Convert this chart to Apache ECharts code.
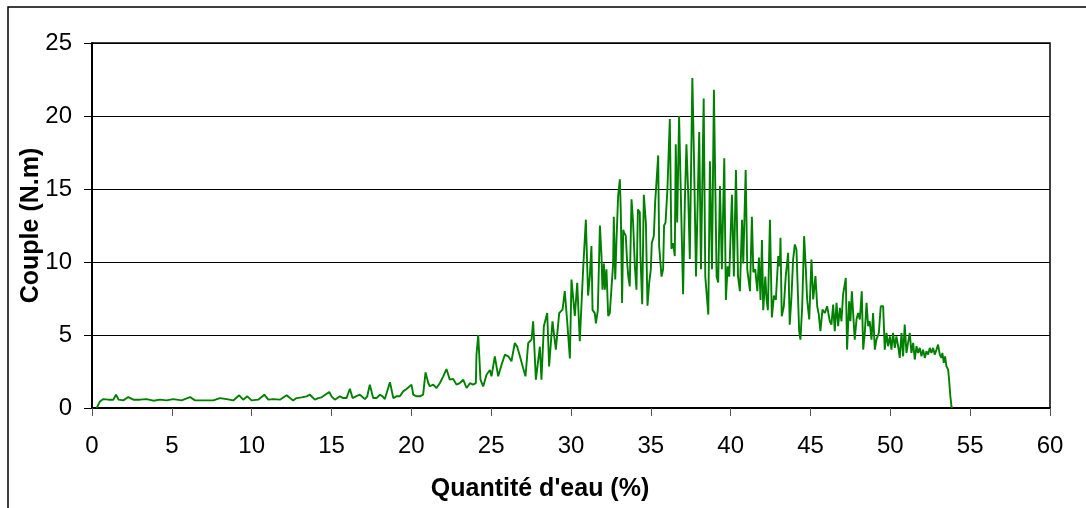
<!DOCTYPE html>
<html>
<head>
<meta charset="utf-8">
<script src="https://cdn.jsdelivr.net/npm/echarts@6/dist/echarts.min.js"></script>
<style>
  html, body { margin: 0; padding: 0; background: #fff; }
  #chart { width: 1086px; height: 508px; }
</style>
</head>
<body>
<div id="chart"></div>
<script>
// water content (%) / torque (N.m) in segments
const lowX = [0.29, 0.5, 0.71, 1.02, 1.34, 1.5, 1.67, 1.96, 2.27, 2.59, 3.0, 3.42, 3.84, 4.26, 4.67, 5.09, 5.61, 6.14, 6.45, 6.97, 7.6, 8.01, 8.43, 8.85, 9.22, 9.47, 9.73, 9.99, 10.41, 10.79, 11.04, 11.35, 11.77, 12.19, 12.4, 12.6, 12.81, 13.13, 13.44, 13.65, 13.96, 14.17, 14.38, 14.86, 15.0, 15.21, 15.53, 15.74, 15.94, 16.15, 16.32, 16.53, 16.78, 17.09, 17.24, 17.4, 17.61, 17.82, 18.03, 18.2, 18.34, 18.66, 18.87, 19.07, 19.28, 19.49, 19.7, 20.01, 20.12, 20.33, 20.54, 20.74, 20.89, 21.06, 21.16, 21.37, 21.58, 21.79, 22.0, 22.2, 22.41, 22.62, 22.83, 23.04, 23.25, 23.46, 23.67, 23.87, 24.04];
const lowY = [0, 0.45, 0.61, 0.57, 0.57, 0.91, 0.57, 0.52, 0.75, 0.57, 0.57, 0.61, 0.5, 0.57, 0.52, 0.61, 0.52, 0.75, 0.52, 0.52, 0.52, 0.68, 0.61, 0.52, 0.87, 0.57, 0.8, 0.52, 0.57, 0.91, 0.57, 0.61, 0.57, 0.87, 0.68, 0.52, 0.68, 0.73, 0.8, 0.91, 0.57, 0.68, 0.73, 1.1, 0.8, 0.57, 0.8, 0.68, 0.68, 1.32, 0.68, 0.8, 0.91, 0.61, 0.8, 1.6, 0.68, 0.68, 0.91, 0.8, 0.61, 1.76, 0.68, 0.8, 0.8, 1.14, 1.3, 1.6, 0.91, 0.8, 0.8, 0.91, 2.44, 1.71, 1.49, 1.6, 1.37, 1.71, 2.17, 2.67, 1.94, 1.99, 1.6, 1.71, 1.94, 1.37, 1.7, 1.6, 1.7];

const riseX = [24.08, 24.19, 24.33, 24.5, 24.71, 24.92, 25.02, 25.23, 25.44, 25.65, 25.86, 26.07, 26.27, 26.48, 26.63, 26.8, 27.0, 27.15, 27.32, 27.53, 27.63, 27.8, 28.05, 28.15, 28.3, 28.51, 28.63, 28.84, 29.05, 29.26, 29.47, 29.61, 29.76, 29.93, 30.03, 30.24, 30.39, 30.55, 30.76, 30.93, 31.07];
const riseY = [3.65, 5.0, 1.94, 1.48, 2.28, 2.6, 2.17, 3.54, 2.17, 2.97, 3.65, 3.54, 3.2, 4.45, 4.2, 3.54, 2.74, 2.17, 4.45, 4.68, 5.94, 1.94, 4.2, 1.94, 5.6, 6.5, 2.85, 5.94, 4.0, 6.5, 6.74, 8.0, 5.94, 3.4, 8.8, 6.3, 8.57, 4.57, 9.5, 12.9, 7.7];

const peakX = [31.18, 31.28, 31.35, 31.49, 31.56, 31.68, 31.81, 31.91, 31.97, 32.06, 32.12, 32.22, 32.33, 32.43, 32.54, 32.64, 32.68, 32.77, 32.85, 32.95, 33.06, 33.12, 33.2, 33.27, 33.33, 33.43, 33.52, 33.6, 33.68, 33.79, 33.89, 34.0, 34.1, 34.19, 34.31, 34.35, 34.46, 34.56, 34.69, 34.79, 34.9, 35.0, 35.06, 35.19, 35.27, 35.35, 35.46, 35.52, 35.67, 35.77, 35.83, 35.92, 36.04, 36.19, 36.29, 36.4, 36.5, 36.56, 36.65, 36.77, 36.9, 37.02, 37.13, 37.23, 37.34, 37.44, 37.6, 37.7, 37.83, 38.03, 38.14, 38.31, 38.41, 38.6, 38.7, 38.83, 38.95, 39.12, 39.22, 39.33, 39.45, 39.6, 39.7, 39.81, 39.91, 40.08, 40.2, 40.33, 40.46, 40.58, 40.71, 40.79, 40.94, 41.04, 41.21, 41.33, 41.42, 41.54, 41.67, 41.77, 41.87, 41.96, 42.04, 42.17, 42.25, 42.33, 42.46, 42.58, 42.71, 42.83, 42.98, 43.08];
const peakY = [9.03, 11.1, 6.7, 6.5, 5.8, 6.7, 12.5, 10.4, 8.1, 9.9, 8.1, 9.5, 6.3, 6.5, 8.3, 9.9, 13.1, 8.8, 11.5, 14.5, 15.66, 13.4, 7.2, 12.2, 12.0, 11.8, 9.9, 8.9, 8.34, 14.3, 12.7, 9.7, 8.1, 13.6, 13.4, 10.4, 7.1, 14.6, 12.7, 7.0, 8.6, 9.5, 11.3, 11.8, 14.1, 15.4, 17.3, 11.1, 9.0, 9.5, 12.5, 12.7, 15.0, 19.8, 10.9, 11.3, 10.4, 18.06, 12.7, 20.0, 13.6, 7.8, 14.1, 18.06, 14.7, 10.2, 22.6, 17.3, 9.0, 18.9, 9.5, 21.2, 9.0, 6.4, 16.9, 9.5, 21.8, 9.0, 8.6, 15.2, 9.5, 17.1, 7.4, 9.7, 9.0, 14.6, 9.0, 16.3, 9.0, 8.0, 12.9, 9.9, 16.3, 9.5, 8.0, 13.1, 9.3, 9.5, 8.0, 10.3, 7.4, 11.5, 6.7, 9.0, 7.4, 6.7, 12.9, 6.2, 7.7, 7.4, 10.4, 9.7];

const tailX = [43.12, 43.2, 43.33, 43.45, 43.6, 43.7, 43.81, 43.91, 44.02, 44.12, 44.29, 44.37, 44.48, 44.6, 44.71, 44.79, 44.92, 45.06, 45.17, 45.31, 45.42, 45.52, 45.62, 45.75, 45.9, 46.04, 46.21, 46.31, 46.42, 46.52, 46.63, 46.73, 46.84, 46.94, 47.04, 47.15, 47.21, 47.29, 47.42, 47.5, 47.59, 47.71, 47.77, 47.88, 47.98, 48.09, 48.21, 48.3, 48.4, 48.51, 48.61, 48.71, 48.82, 48.92, 49.03, 49.13, 49.28, 49.4, 49.55, 49.65, 49.76, 49.86, 49.97, 50.07, 50.17, 50.28, 50.38, 50.49, 50.59, 50.7, 50.8, 50.9, 51.01, 51.11, 51.22, 51.32, 51.43, 51.53, 51.64, 51.74, 51.84, 51.95, 52.05, 52.16, 52.26, 52.37, 52.47, 52.57, 52.68, 52.78, 52.89, 52.99, 53.1, 53.2, 53.26, 53.35, 53.43, 53.51, 53.62, 53.68, 53.76, 53.83, 53.87];
const tailY = [11.66, 6.28, 6.97, 9.03, 10.63, 5.71, 7.66, 10.17, 11.2, 10.86, 5.26, 4.68, 6.97, 11.77, 9.48, 7.43, 6.06, 10.17, 7.43, 9.03, 6.97, 6.4, 5.26, 6.74, 6.51, 6.97, 5.94, 5.71, 7.08, 5.26, 7.2, 5.6, 6.86, 5.94, 7.77, 7.66, 8.91, 4.0, 7.31, 5.94, 8.0, 8.11, 4.68, 6.06, 6.51, 6.06, 8.0, 4.0, 5.14, 7.2, 5.6, 5.94, 4.68, 6.51, 4.0, 4.68, 5.14, 6.97, 6.97, 4.0, 5.14, 4.23, 4.9, 4.0, 5.14, 4.12, 4.9, 4.23, 3.43, 5.14, 3.54, 5.72, 3.77, 4.46, 5.14, 3.77, 4.46, 3.32, 4.23, 3.77, 4.12, 3.54, 4.0, 3.43, 3.89, 3.66, 4.12, 3.77, 4.12, 3.66, 4.0, 4.34, 3.66, 3.43, 3.77, 3.09, 3.54, 2.86, 2.63, 1.94, 0.8, 0.11, 0];

const waterPct = [...lowX, ...riseX, ...peakX, ...tailX];
const torque = [...lowY, ...riseY, ...peakY, ...tailY];

const fontFamily = "Liberation Sans, Arial, sans-serif";
const chart = echarts.init(document.getElementById("chart"), null, { renderer: "canvas" });

chart.setOption({
  animation: false,
  backgroundColor: "#fff",
  graphic: [
    {
      type: "rect",
      shape: { x: 8, y: 7, width: 1200, height: 700 },
      style: { fill: "none", stroke: "#000", lineWidth: 1.5 },
      silent: true,
      z: -1
    }
  ],
  grid: {
    left: 92,
    top: 43,
    width: 958,
    height: 365,
    show: true,
    borderColor: "#000",
    borderWidth: 1.5,
    backgroundColor: "#fff"
  },
  xAxis: {
    type: "value",
    min: 0,
    max: 60,
    interval: 5,
    name: "Quantité d'eau (%)",
    nameLocation: "middle",
    nameGap: 69,
    nameMoveOverlap: false,
    nameTextStyle: {
      fontFamily,
      fontWeight: "bold",
      fontSize: 25,
      color: "#000",
      padding: [0, 62, 0, 0]
    },
    axisLine: { lineStyle: { color: "#000", width: 2 } },
    axisTick: { inside: false, length: 8, lineStyle: { color: "#555", width: 1 } },
    axisLabel: { margin: 26, fontFamily, fontSize: 24, color: "#000" },
    splitLine: { show: false }
  },
  yAxis: {
    type: "value",
    min: 0,
    max: 25,
    interval: 5,
    name: "Couple (N.m)",
    nameLocation: "middle",
    nameGap: 48,
    nameMoveOverlap: false,
    nameTextStyle: {
      fontFamily,
      fontWeight: "bold",
      fontSize: 25,
      color: "#000"
    },
    axisLine: { show: true, lineStyle: { color: "#000", width: 2 } },
    axisTick: { show: true, length: 8, lineStyle: { color: "#000", width: 1 } },
    axisLabel: { margin: 20, fontFamily, fontSize: 24, color: "#000" },
    splitLine: { show: true, lineStyle: { color: "#000", width: 1 } }
  },
  series: [
    {
      type: "line",
      data: waterPct.map((x, i) => [x, torque[i]]),
      showSymbol: false,
      lineStyle: { color: "#008000", width: 1.9 },
      itemStyle: { color: "#008000" }
    }
  ]
});
</script>
</body>
</html>
